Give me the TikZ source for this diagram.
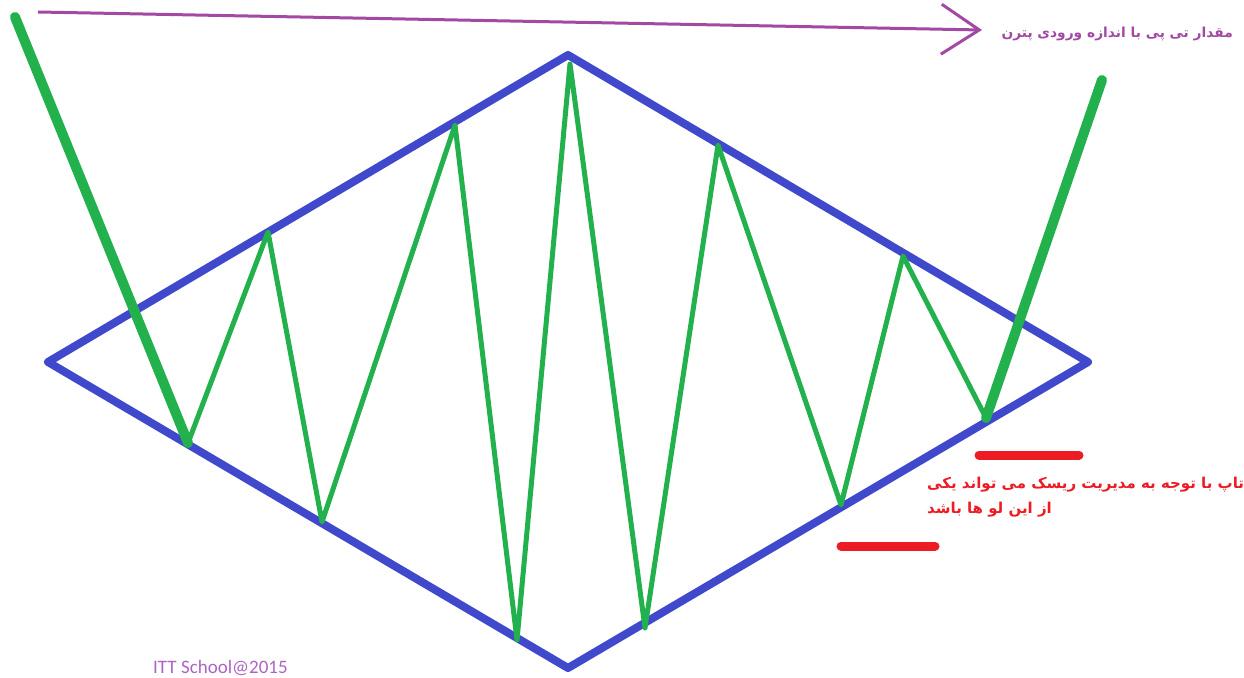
\documentclass[tikz,border=0pt]{standalone}
\usepackage{fontspec}
\setmainfont{Carlito}
\newfontfamily\arabicfont[Script=Arabic]{DejaVu Sans}
\TeXXeTstate=1
\usetikzlibrary{arrows.meta}
\definecolor{pblue}{HTML}{4048CC}
\definecolor{pgreen}{HTML}{22B14C}
\definecolor{pred}{HTML}{ED1C24}
\definecolor{ppurple}{HTML}{A349A4}
\definecolor{pmark}{HTML}{B062C4}
\tikzset{
  frame/.style={draw=pblue,line width=8pt,line join=round,line cap=round},
  wave/.style={draw=pgreen,line width=5pt,line join=round,line cap=round},
  leg/.style={draw=pgreen,line width=10pt,line cap=round},
  lvl/.style={draw=pred,line width=9pt,line cap=round},
  parr/.style={draw=ppurple,line width=3pt,-{Straight Barb[length=38pt,width=50pt,line width=3pt]}},
  note/.style={font=\arabicfont\bfseries\fontsize{13.8}{25}\selectfont,inner sep=0pt},
}

\begin{document}
\begin{tikzpicture}[x=1pt,y=-1pt]
  \useasboundingbox[fill=white] (0,0) rectangle (1244,677);
  % diamond
  \coordinate (dl) at (48,362);
  \coordinate (dt) at (568,55);
  \coordinate (dr) at (1088,362);
  \coordinate (db) at (568,668);
  \draw[frame] (dl) -- (dt) -- (dr) -- (db) -- cycle;
  % swings inside the diamond
  \coordinate (w0) at (188,443);
  \coordinate (w1) at (268,232);
  \coordinate (w2) at (322,522);
  \coordinate (w3) at (455,125);
  \coordinate (w4) at (517,640);
  \coordinate (w5) at (570,64);
  \coordinate (w6) at (645,628);
  \coordinate (w7) at (718,145);
  \coordinate (w8) at (841,505);
  \coordinate (w9) at (903,256);
  \coordinate (w10) at (986,418);
  \draw[wave] (w0) -- (w1) -- (w2) -- (w3) -- (w4) -- (w5) -- (w6) -- (w7) -- (w8) -- (w9) -- (w10);
  % entry and exit legs
  \coordinate (in) at (15,17);
  \coordinate (out) at (1102,80);
  \draw[leg] (in) -- (w0);
  \draw[leg] (w10) -- (out);
  % target arrow
  \coordinate (a0) at (38,12);
  \coordinate (a1) at (982,30);
  \draw[parr] (a0) -- (a1);
  \node[note,text=ppurple,anchor=east] (tp) at (1233,34) {\beginR مقدار تی پی با اندازه ورودی پترن\endR};
  % possible stops
  \coordinate (s1a) at (979,455);
  \coordinate (s1b) at (1079,455);
  \coordinate (s2a) at (841,546);
  \coordinate (s2b) at (935,546);
  \draw[lvl] (s1a) -- (s1b);
  \draw[lvl] (s2a) -- (s2b);
  \node[note,text=pred,anchor=north west,align=left,font=\arabicfont\bfseries\fontsize{15}{25}\selectfont] (st) at (927,477)
    {\beginR تاپ با توجه به مدیریت ریسک می تواند یکی\endR\\\beginR از این لو ها باشد\endR};
  \node[font=\fontsize{19}{22}\selectfont,text=pmark,anchor=base west,inner sep=0pt] (cr) at (153,673) {ITT School@2015};
\end{tikzpicture}
\end{document}
